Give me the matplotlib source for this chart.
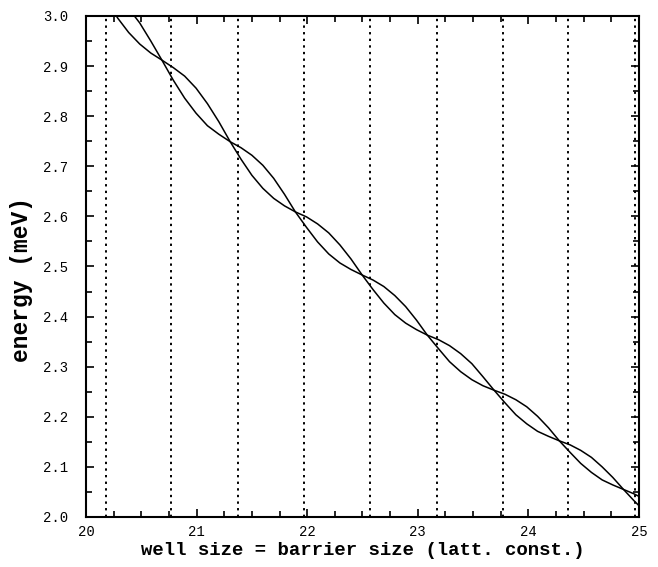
import numpy as np
import matplotlib
matplotlib.use('Agg')
import matplotlib.pyplot as plt
from matplotlib.ticker import MultipleLocator

# well size (latt. const.) sampled along the two levels
x = [20.186, 20.286, 20.386, 20.486, 20.586, 20.686,
     20.789, 20.892, 20.995, 21.098, 21.201, 21.304,
     21.402, 21.500, 21.599, 21.697, 21.795, 21.893,
     21.994, 22.094, 22.195, 22.296, 22.396, 22.497,
     22.595, 22.693, 22.792, 22.890, 22.988, 23.086,
     23.187, 23.287, 23.388, 23.489, 23.589, 23.690,
     23.788, 23.887, 23.985, 24.083, 24.182, 24.280,
     24.377, 24.473, 24.570, 24.667, 24.763, 24.860,
     24.957, 25.053]

# energy (meV) of level 1
level1 = [3.032, 2.996, 2.967, 2.944, 2.926, 2.912,
          2.897, 2.880, 2.856, 2.825, 2.789, 2.749,
          2.714, 2.682, 2.656, 2.636, 2.621, 2.609,
          2.599, 2.585, 2.567, 2.543, 2.515, 2.483,
          2.454, 2.427, 2.404, 2.387, 2.374, 2.363,
          2.354, 2.342, 2.326, 2.306, 2.280, 2.253,
          2.228, 2.204, 2.186, 2.171, 2.161, 2.152,
          2.144, 2.133, 2.119, 2.100, 2.079, 2.055,
          2.032, 2.011]

# energy (meV) of level 2
level2 = [3.056, 3.038, 3.015, 2.986, 2.950, 2.912,
          2.872, 2.836, 2.806, 2.781, 2.764, 2.749,
          2.737, 2.722, 2.702, 2.676, 2.644, 2.609,
          2.578, 2.549, 2.525, 2.507, 2.494, 2.483,
          2.473, 2.460, 2.442, 2.420, 2.393, 2.363,
          2.336, 2.310, 2.290, 2.274, 2.262, 2.253,
          2.245, 2.234, 2.220, 2.201, 2.178, 2.152,
          2.129, 2.107, 2.089, 2.074, 2.064, 2.055,
          2.046, 2.035]

# dotted vertical markers
markers = [20.18, 20.77, 21.37, 21.97, 22.57, 23.17, 23.77, 24.36, 24.96]

fig = plt.figure(figsize=(6.58, 5.67), dpi=100)
ax = fig.add_axes([0.1307, 0.0882, 0.8404, 0.8836])

for m in markers:
    ax.axvline(m, color='black', linestyle=(0, (1.2, 2.2)), linewidth=1.4)

ax.plot(x, level1, color='black', linewidth=1.1)
ax.plot(x, level2, color='black', linewidth=1.1)

ax.set_xlim(20, 25)
ax.set_ylim(2.0, 3.0)
ax.xaxis.set_major_locator(MultipleLocator(1))
ax.xaxis.set_minor_locator(MultipleLocator(0.25))
ax.yaxis.set_major_locator(MultipleLocator(0.1))
ax.yaxis.set_minor_locator(MultipleLocator(0.05))
ax.yaxis.set_major_formatter(plt.FormatStrFormatter('%.1f'))

ax.tick_params(which='both', direction='in', top=True, right=True,
               width=1.2, labelsize=10, labelfontfamily='Liberation Mono')
ax.tick_params(which='major', length=6)
ax.tick_params(which='minor', length=4)
ax.tick_params(axis='y', which='major', pad=13)
ax.tick_params(axis='x', which='major', pad=6)
for s in ax.spines.values():
    s.set_linewidth(1.5)

ax.set_xlabel('well size = barrier size (latt. const.)', fontsize=13.7,
              fontweight='bold', family='Liberation Mono', labelpad=2)
ax.set_ylabel('energy (meV)', fontsize=16.5, fontweight='bold',
              family='Liberation Mono')
ax.yaxis.set_label_coords(-0.096, 0.474)

fig.savefig('out.png', dpi=100)
